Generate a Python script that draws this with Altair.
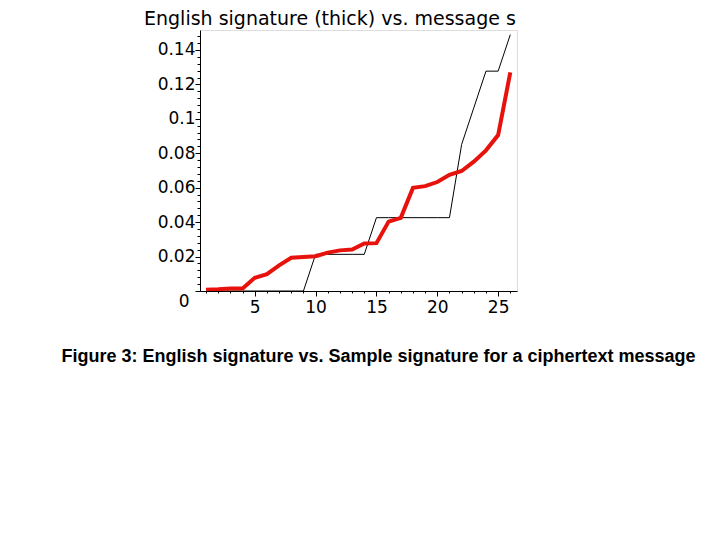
import altair as alt
import pandas as pd

# ---- data ----
rank = list(range(1, 27))
english = [0.0007, 0.001, 0.0015, 0.0015, 0.0077, 0.0098, 0.0149, 0.0193, 0.0197,
           0.0202, 0.0223, 0.0236, 0.0241, 0.0276, 0.0278, 0.0403, 0.0425, 0.0599,
           0.0609, 0.0633, 0.0675, 0.0697, 0.0751, 0.0817, 0.0906, 0.1270]
message = [0, 0, 0, 0, 0, 0, 0, 0, 0,
           0.0213, 0.0213, 0.0213, 0.0213, 0.0213,
           0.0426, 0.0426, 0.0426, 0.0426, 0.0426, 0.0426, 0.0426,
           0.0851, 0.1064, 0.1277, 0.1277, 0.1489]

x_ticks = list(range(1, 27))
y_ticks = [round(i * 0.004, 3) for i in range(0, 38)]

title_text = "English signature (thick) vs. message s"
caption = "Figure 3: English signature vs. Sample signature for a ciphertext message"

df = pd.DataFrame({"rank": rank, "english": english, "message": message})

x_scale = alt.Scale(domain=[0.5, 26.55], nice=False, zero=False)
y_scale = alt.Scale(domain=[0, 0.1516], nice=False)

x_axis = alt.Axis(
    values=x_ticks, tickCount=200, title=None, grid=False,
    labelExpr="datum.value % 5 === 0 ? format(datum.value, '~g') : ''",
    labelFont="DejaVu Sans", labelFontSize=17, labelColor="black",
    labelPadding=3, labelFlush=False, labelOverlap=False, labelBound=False,
    domainColor="black", tickColor="black",
    tickSize={"condition": {"test": "datum.value % 5 === 0", "value": 5}, "value": 2},
)
y_axis = alt.Axis(
    values=y_ticks, tickCount=200, title=None, grid=False,
    labelExpr="round(datum.value*1000) % 20 === 0 ? format(datum.value, '~g') : ''",
    labelFont="DejaVu Sans", labelFontSize=17, labelColor="black",
    labelPadding={"condition": {"test": "datum.value === 0", "value": 6}, "value": 0},
    labelOffset={"condition": {"test": "datum.value === 0", "value": 10}, "value": 0},
    labelFlush=False, labelOverlap=False, labelBound=False,
    domainColor="black", tickColor="black",
    tickSize={"condition": {"test": "round(datum.value*1000) % 20 === 0", "value": 5}, "value": 3},
)

base = alt.Chart(df)

msg_line = base.mark_line(color="black", strokeWidth=1, clip=True).encode(
    x=alt.X("rank:Q", scale=x_scale, axis=x_axis),
    y=alt.Y("message:Q", scale=y_scale, axis=y_axis),
)
eng_line = base.mark_line(color="#e8120c", strokeWidth=4, clip=True).encode(
    x=alt.X("rank:Q", scale=x_scale),
    y=alt.Y("english:Q", scale=y_scale),
)

cap = alt.Chart(pd.DataFrame({"t": [caption]})).mark_text(
    font="Liberation Sans", fontSize=18, fontWeight="bold", color="black",
    align="center", baseline="alphabetic",
).encode(text="t:N", x=alt.value(178.5), y=alt.value(332))

chart = alt.layer(msg_line, eng_line, cap).properties(
    width=317, height=261,
    title=alt.TitleParams(
        text=title_text, anchor="start", frame="group", dx=-56, offset=-2,
        font="DejaVu Sans", fontSize=19, fontWeight="normal", color="black",
    ),
    autosize=alt.AutoSizeParams(type="none"),
    padding={"left": 192, "top": 22, "right": 190, "bottom": 220},
).configure_view(stroke=None).configure(background="white")

chart.save("out.html", embed_options={"renderer": "svg", "actions": False})
